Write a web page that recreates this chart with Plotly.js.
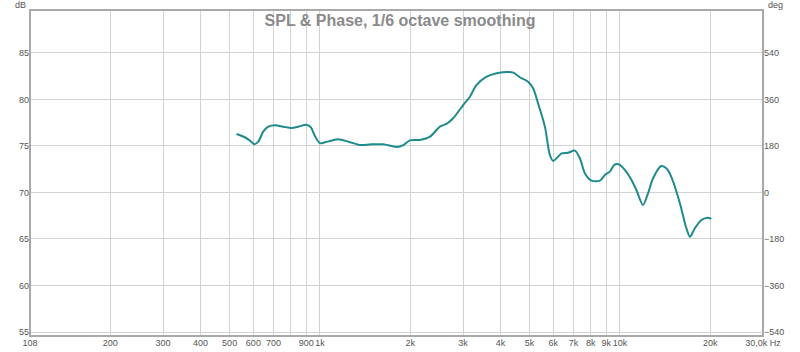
<!DOCTYPE html>
<html>
<head>
<meta charset="utf-8">
<script src="https://cdn.plot.ly/plotly-3.0.1.min.js"></script>
<style>html,body{margin:0;padding:0;background:#fff;}#chart{width:800px;height:352px;}</style>
</head>
<body>
<div id="chart"></div>
<script>
// Frequency (Hz) and SPL (dB)
const freqHz = [527, 562, 585, 604, 623, 647, 673, 708, 755, 805, 847, 903, 933, 962, 1000, 1039, 1100, 1151, 1243, 1308, 1359, 1487, 1626, 1801, 1896, 1995, 2154, 2327, 2512, 2642, 2781, 3003, 3162, 3330, 3594, 3885, 4251, 4416, 4642, 4944, 5136, 5336, 5623, 5843, 5994, 6150, 6390, 6726, 7079, 7356, 7644, 8039, 8577, 8913, 9261, 9567, 9772, 10000, 10390, 10930, 11350, 11940, 12410, 12900, 13740, 14280, 14830, 15850, 16600, 17130, 17780, 18700, 19660, 20180];
const splDb = [76.29, 75.94, 75.57, 75.18, 75.46, 76.54, 77.08, 77.22, 77.07, 76.94, 77.07, 77.29, 77.0, 76.08, 75.29, 75.39, 75.6, 75.72, 75.46, 75.25, 75.1, 75.18, 75.18, 74.9, 75.1, 75.6, 75.65, 76.0, 77.08, 77.37, 77.98, 79.4, 80.3, 81.56, 82.45, 82.82, 82.96, 82.88, 82.39, 81.91, 81.2, 79.59, 77.08, 74.03, 73.39, 73.68, 74.2, 74.28, 74.5, 73.68, 72.07, 71.27, 71.27, 71.88, 72.24, 72.96, 73.06, 72.96, 72.42, 71.34, 70.27, 68.66, 69.91, 71.53, 72.85, 72.6, 71.7, 68.84, 66.32, 65.25, 66.15, 67.04, 67.29, 67.15];

const xTickVals = [108, 200, 300, 400, 500, 600, 700, 800, 900, 1000, 2000, 3000, 4000, 5000, 6000, 7000, 8000, 9000, 10000, 20000, 30000];
const xTickText = ["108", "200", "300", "400", "500", "600", "700", "", "900", "1k", "2k", "3k", "4k", "5k", "6k", "7k", "8k", "9k", "10k", "20k", "30,0k Hz"];
const dbTickVals = [55, 60, 65, 70, 75, 80, 85];
const degTickVals = [-540, -360, -180, 0, 180, 360, 540];

const titleText = "SPL & Phase, 1/6 octave smoothing";
const tickFont = {family: "Liberation Sans, Arial, sans-serif", size: 9, color: "#555"};
const gridCol = "#d3d3d3";

const traces = [{
  x: freqHz, y: splDb, type: "scatter", mode: "lines",
  line: {color: "#1f8a8b", width: 2, shape: "spline", smoothing: 0.8},
  hoverinfo: "skip", showlegend: false
}];

const layout = {
  width: 800, height: 352,
  margin: {l: 30, r: 37, t: 10, b: 16, pad: 0},
  paper_bgcolor: "#fff", plot_bgcolor: "#fff",
  showlegend: false,
  title: {text: titleText, x: 0.5, xref: "container", xanchor: "center",
          y: 1 - 20/352, yref: "container", yanchor: "middle",
          font: {family: "Liberation Sans, Arial, sans-serif", size: 16, color: "#8a8a8a", weight: "bold"}},
  xaxis: {type: "log", range: [Math.log10(108), Math.log10(30000)],
          tickmode: "array", tickvals: xTickVals, ticktext: xTickText, tickangle: 0,
          showgrid: true, gridcolor: gridCol, gridwidth: 1, zeroline: false,
          ticks: "", ticklen: 0, tickfont: tickFont, showline: false, fixedrange: true, automargin: false},
  yaxis: {range: [54.57, 89.62], tickmode: "array", tickvals: dbTickVals,
          showgrid: true, gridcolor: gridCol, gridwidth: 1, zeroline: false,
          ticks: "", ticklen: 0, tickfont: tickFont, showline: false, fixedrange: true, automargin: false},
  yaxis2: {overlaying: "y", side: "right", range: [-555.5, 706.3], tickmode: "array", tickvals: degTickVals,
          showgrid: false, zeroline: false, ticks: "", ticklen: 0, tickfont: tickFont,
          showline: false, fixedrange: true, automargin: false},
  shapes: [{type: "rect", xref: "paper", yref: "paper", x0: 0, x1: 1, y0: 0, y1: 1,
            line: {color: "#a9a9a9", width: 2}, fillcolor: "rgba(0,0,0,0)", layer: "above"}],
  annotations: [
    {text: "dB", xref: "paper", yref: "paper", x: -10/733, y: 1 + 5/326, xanchor: "center", yanchor: "middle",
     showarrow: false, font: tickFont},
    {text: "deg", xref: "paper", yref: "paper", x: 1 + 12/733, y: 1 + 5/326, xanchor: "center", yanchor: "middle",
     showarrow: false, font: tickFont}
  ]
};
traces.push({x: [1000], y: [0], yaxis: "y2", type: "scatter", mode: "markers",
  marker: {opacity: 0}, hoverinfo: "skip", showlegend: false});

Plotly.newPlot("chart", traces, layout, {staticPlot: true, displayModeBar: false});
</script>
</body>
</html>
